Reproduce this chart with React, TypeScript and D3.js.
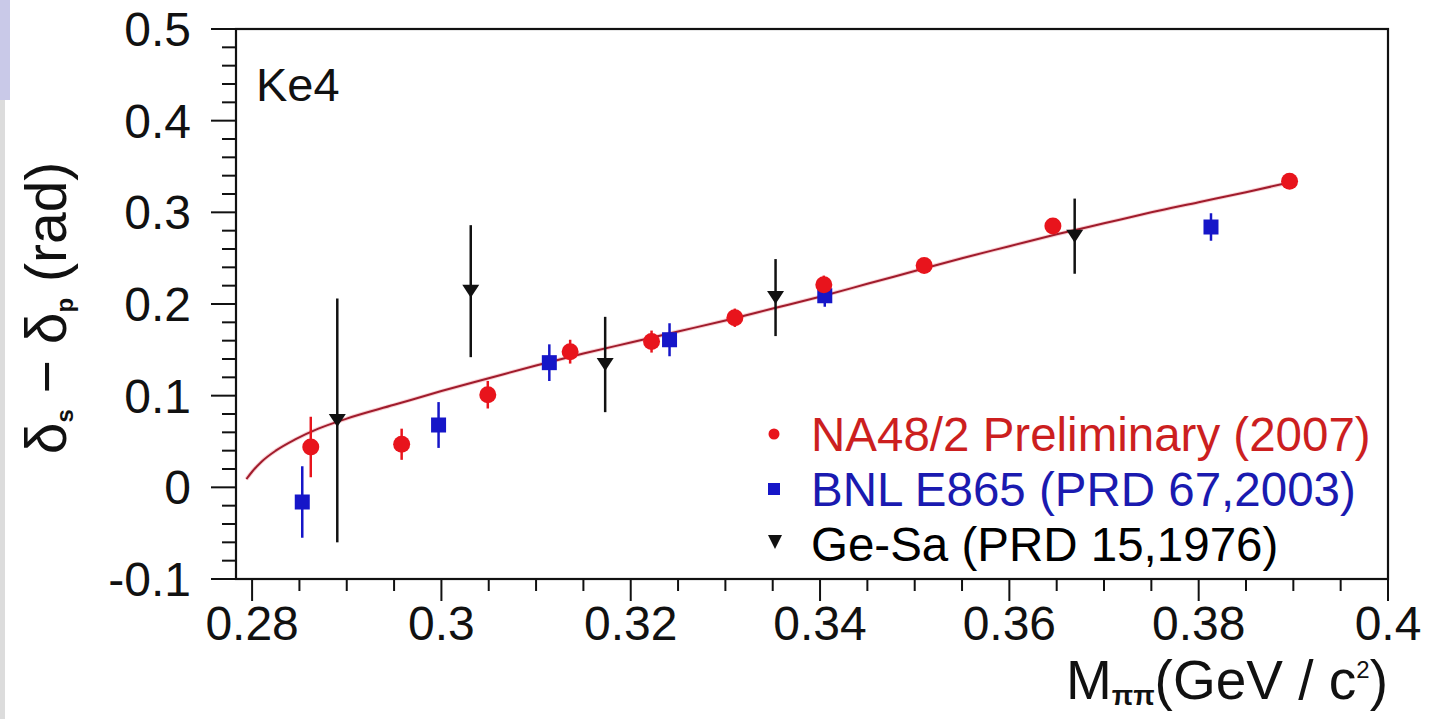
import React, { useEffect, useRef } from 'react';
import * as d3 from 'd3';

// NA48/2 Preliminary (2007)
const na48X = [0.2862, 0.2958, 0.3049, 0.3136, 0.3222, 0.3310, 0.3404, 0.3510, 0.3646, 0.3896];
const na48Y = [0.044, 0.047, 0.101, 0.148, 0.159, 0.185, 0.221, 0.242, 0.285, 0.334];
const na48Err = [0.033, 0.017, 0.015, 0.013, 0.012, 0.010, 0.010, 0.008, 0.008, 0.008];

// BNL E865 (PRD 67, 2003)
const bnlX = [0.2853, 0.2997, 0.3114, 0.3241, 0.3405, 0.3813];
const bnlY = [-0.016, 0.068, 0.136, 0.161, 0.209, 0.284];
const bnlErr = [0.039, 0.025, 0.020, 0.018, 0.012, 0.015];

// Ge-Sa (PRD 15, 1976)
const gesaX = [0.2890, 0.3031, 0.3173, 0.3353, 0.3669];
const gesaY = [0.073, 0.214, 0.134, 0.207, 0.274];
const gesaErr = [0.133, 0.072, 0.052, 0.042, 0.041];

// fit curve
const fitX = [0.2794, 0.2800, 0.2810, 0.2825, 0.2845, 0.2870, 0.2900, 0.2950, 0.3000, 0.3050, 0.3100,
  0.3150, 0.3200, 0.3250, 0.3300, 0.3350, 0.3400, 0.3450, 0.3500, 0.3550, 0.3600, 0.3650, 0.3700,
  0.3750, 0.3800, 0.3850, 0.3898];
const fitY = [0.009, 0.017, 0.028, 0.040, 0.052, 0.064, 0.075, 0.090, 0.105, 0.119, 0.133,
  0.146, 0.158, 0.170, 0.182, 0.195, 0.208, 0.222, 0.236, 0.250, 0.263, 0.276, 0.288,
  0.300, 0.311, 0.322, 0.333];

const xMajor = [0.28, 0.30, 0.32, 0.34, 0.36, 0.38, 0.40];
const yMajor = [-0.1, 0, 0.1, 0.2, 0.3, 0.4, 0.5];

const legendItems = [
  { key: 'na48', label: 'NA48/2 Preliminary (2007)', color: '#cc1f1f' },
  { key: 'bnl', label: 'BNL E865 (PRD 67,2003)', color: '#1a1ab0' },
  { key: 'gesa', label: 'Ge-Sa (PRD 15,1976)', color: '#000000' },
];

const FONT = '"Liberation Sans", Arial, Helvetica, sans-serif';

export default function App() {
  const svgRef = useRef<SVGSVGElement>(null);

  useEffect(() => {
    const svg = d3.select(svgRef.current);
    svg.selectAll('*').remove();

    const width = 1431;
    const height = 719;

    svg.attr('width', width).attr('height', height);

    svg.append('rect').attr('width', width).attr('height', height).attr('fill', 'white');
    // slide remnants at the left edge
    svg.append('rect').attr('x', 0).attr('y', 100).attr('width', 5).attr('height', height - 100).attr('fill', '#dcdcdc');
    svg.append('rect').attr('x', 0).attr('y', 0).attr('width', 10).attr('height', 100).attr('fill', '#c9c9e8');

    const xScale = d3.scaleLinear().domain([0.2783, 0.4]).range([236, 1388]);
    const yScale = d3.scaleLinear().domain([-0.1, 0.5]).range([579, 29]);

    const x0 = xScale.range()[0];
    const x1 = xScale.range()[1];
    const y0 = yScale.range()[0];
    const y1 = yScale.range()[1];

    // frame
    svg.append('rect')
      .attr('x', x0).attr('y', y1)
      .attr('width', x1 - x0).attr('height', y0 - y1)
      .attr('fill', 'none').attr('stroke', '#111').attr('stroke-width', 2.2);

    // y ticks (outside, to the left)
    const yMinor = d3.range(-0.1, 0.5001, 0.02);
    const ticks = svg.append('g').attr('stroke', '#111').attr('stroke-width', 2);
    yMinor.forEach(v => {
      const major = yMajor.some(m => Math.abs(m - v) < 1e-6);
      ticks.append('line')
        .attr('x1', x0).attr('x2', x0 - (major ? 25 : 14))
        .attr('y1', yScale(v)).attr('y2', yScale(v));
    });

    // x ticks (outside, below)
    const xMinor = d3.range(0.28, 0.4001, 0.005);
    xMinor.forEach(v => {
      const major = xMajor.some(m => Math.abs(m - v) < 1e-6);
      ticks.append('line')
        .attr('x1', xScale(v)).attr('x2', xScale(v))
        .attr('y1', y0).attr('y2', y0 + (major ? 22 : 12));
    });

    const fmt = (d: number) => String(+d.toFixed(2));

    svg.append('g')
      .selectAll('text')
      .data(yMajor)
      .enter()
      .append('text')
      .attr('x', 191)
      .attr('y', d => yScale(d) + 17)
      .attr('text-anchor', 'end')
      .attr('font-family', FONT)
      .attr('font-size', 48)
      .attr('fill', '#111')
      .text(d => fmt(d));

    svg.append('g')
      .selectAll('text')
      .data(xMajor)
      .enter()
      .append('text')
      .attr('x', d => xScale(d))
      .attr('y', 640)
      .attr('text-anchor', 'middle')
      .attr('font-family', FONT)
      .attr('font-size', 48)
      .attr('fill', '#111')
      .text(d => fmt(d));

    // fit curve
    const fitData = fitX.map((x, i) => ({ x, y: fitY[i] }));
    const line = d3.line<{ x: number; y: number }>()
      .x(d => xScale(d.x))
      .y(d => yScale(d.y))
      .curve(d3.curveMonotoneX);

    svg.append('path')
      .datum(fitData)
      .attr('fill', 'none')
      .attr('stroke', '#f4a0a8')
      .attr('stroke-width', 4)
      .attr('opacity', 0.5)
      .attr('d', line);
    svg.append('path')
      .datum(fitData)
      .attr('fill', 'none')
      .attr('stroke', '#a01c2c')
      .attr('stroke-width', 2)
      .attr('d', line);

    const errBars = (xs: number[], ys: number[], es: number[], color: string, w: number) => {
      xs.forEach((x, i) => {
        svg.append('line')
          .attr('x1', xScale(x)).attr('x2', xScale(x))
          .attr('y1', yScale(ys[i] - es[i])).attr('y2', yScale(ys[i] + es[i]))
          .attr('stroke', color).attr('stroke-width', w);
      });
    };

    errBars(gesaX, gesaY, gesaErr, '#111', 2.5);
    errBars(bnlX, bnlY, bnlErr, '#1616c8', 2.5);
    errBars(na48X, na48Y, na48Err, '#e8141c', 2.5);

    // Ge-Sa triangles
    const tri = (cx: number, cy: number, w: number, h: number) =>
      `M${cx - w / 2},${cy - h / 2}L${cx + w / 2},${cy - h / 2}L${cx},${cy + h / 2}Z`;

    gesaX.forEach((x, i) => {
      svg.append('path')
        .attr('d', tri(xScale(x), yScale(gesaY[i]), 17, 13))
        .attr('fill', '#111');
    });

    // BNL squares
    bnlX.forEach((x, i) => {
      svg.append('rect')
        .attr('x', xScale(x) - 7.5).attr('y', yScale(bnlY[i]) - 7.5)
        .attr('width', 15).attr('height', 15)
        .attr('fill', '#1616c8');
    });

    // NA48 circles
    na48X.forEach((x, i) => {
      svg.append('circle')
        .attr('cx', xScale(x)).attr('cy', yScale(na48Y[i]))
        .attr('r', 8.5)
        .attr('fill', '#e8141c');
    });

    // Ke4 label
    svg.append('text')
      .attr('x', 256).attr('y', 101)
      .attr('font-family', FONT).attr('font-size', 47)
      .attr('fill', '#111')
      .text('Ke4');

    // legend
    const legend = svg.append('g');
    legendItems.forEach((item, i) => {
      const cy = 434 + i * 55;
      if (item.key === 'na48') {
        legend.append('circle').attr('cx', 774).attr('cy', cy).attr('r', 5.5).attr('fill', '#e8141c');
      } else if (item.key === 'bnl') {
        legend.append('rect').attr('x', 768).attr('y', cy - 6).attr('width', 12).attr('height', 12).attr('fill', '#1616c8');
      } else {
        legend.append('path').attr('d', tri(775, cy - 2, 14, 14)).attr('fill', '#111');
      }
      legend.append('text')
        .attr('x', 811).attr('y', cy + 17)
        .attr('font-family', FONT).attr('font-size', 47.5)
        .attr('fill', item.color)
        .text(item.label);
    });

    // x axis title
    const xt = svg.append('text')
      .attr('x', 1388).attr('y', 699)
      .attr('text-anchor', 'end')
      .attr('font-family', FONT).attr('font-size', 55)
      .attr('fill', '#111');
    xt.append('tspan').text('M');
    xt.append('tspan').attr('font-size', 28).attr('font-weight', 'bold').attr('dy', 6).text('ππ');
    xt.append('tspan').attr('dy', -6).text('(GeV / c');
    xt.append('tspan').attr('font-size', 24).attr('dy', -21).text('2');
    xt.append('tspan').attr('dy', 21).text(')');

    // y axis title
    const yt = svg.append('text')
      .attr('transform', 'translate(66,308) rotate(-90)')
      .attr('text-anchor', 'middle')
      .attr('font-family', FONT).attr('font-size', 57)
      .attr('fill', '#111');
    yt.append('tspan').text('δ');
    yt.append('tspan').attr('font-size', 24).attr('font-weight', 'bold').attr('dy', 7).text('s');
    yt.append('tspan').attr('dy', -7).text(' − δ');
    yt.append('tspan').attr('font-size', 24).attr('font-weight', 'bold').attr('dy', 7).text('p');
    yt.append('tspan').attr('dy', -7).text(' (rad)');
  }, []);

  return (
    <div style={{ position: 'absolute', left: 0, top: 0 }}>
      <svg ref={svgRef} style={{ display: 'block' }}></svg>
    </div>
  );
}
